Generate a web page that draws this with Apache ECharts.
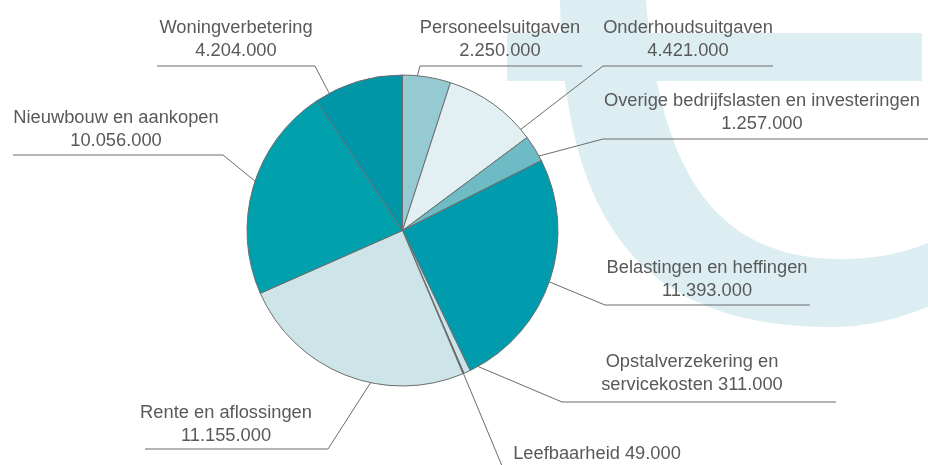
<!DOCTYPE html>
<html>
<head>
<meta charset="utf-8">
<script src="https://cdn.jsdelivr.net/npm/echarts@6/dist/echarts.min.js"></script>
<style>
html, body { margin: 0; padding: 0; background: #fff; }
#chart { width: 928px; height: 465px; }
</style>
</head>
<body>
<div id="chart"></div>
<script>
// uitgaven, met de klok mee vanaf 12 uur
var categories = ['Personeelsuitgaven', 'Onderhoudsuitgaven', 'Overige bedrijfslasten en investeringen',
    'Belastingen en heffingen', 'Opstalverzekering en servicekosten', 'Leefbaarheid',
    'Rente en aflossingen', 'Nieuwbouw en aankopen', 'Woningverbetering'];
var amounts = [2250000, 4421000, 1257000, 11393000, 311000, 49000, 11155000, 10056000, 4204000];
var sliceColors = ['#95cad3', '#e3f0f3', '#6ebbc5', '#009bac', '#cce4e9', '#3e6f76', '#cde4e9', '#00a0ad', '#0096a7'];

// plek van de labels: [tekst midden x, tekst onderkant y, streep y, streep van x, streep tot x, hoek in taartpunt (0-1), straal (0-1)]
var labelSpots = [
    [500, 62, 66, 420, 582, 0.24, 0.887],
    [688, 62, 66, 603, 773, 0.88, 0.866],
    [762, 135, 139, 603, 928, 0.58, 0.858],
    [707, 302, 305, 605, 810, 0.50, 0.864],
    [692, 396, 402, 562, 836, 0.30, 0.92],
    [597, 465, 473, 505, 690, 0.50, 0.99],
    [226, 447, 449, 328, 145, 0.37, 0.925],
    [116, 152, 155, 223, 13, 0.50, 0.909],
    [236, 62, 66, 315, 157, 0.16, 0.88]
];

var pieCenter = [402.5, 230.5];
var pieRadius = 155.5;

function fmt(v) {
    return String(v).replace(/\B(?=(\d{3})+(?!\d))/g, '.');
}

// achtergrond "t": bezier stukken omgezet naar een polygoon
function bez(p0, p1, p2, p3, out) {
    for (var k = 0; k <= 24; k++) {
        var t = k / 24, u = 1 - t;
        out.push([
            u * u * u * p0[0] + 3 * u * u * t * p1[0] + 3 * u * t * t * p2[0] + t * t * t * p3[0],
            u * u * u * p0[1] + 3 * u * u * t * p1[1] + 3 * u * t * t * p2[1] + t * t * t * p3[1]
        ]);
    }
}
var stem = [];
bez([560, 0], [562, 220], [640, 327], [830, 327], stem);
bez([830, 327], [870, 327], [900, 318], [930, 306], stem);
bez([930, 242], [900, 255], [870, 259], [840, 259], stem);
bez([840, 259], [720, 258], [660, 180], [646, 0], stem);

var total = 0;
amounts.forEach(function(v) { total += v; });
var startAngles = [];
var acc = 0;
amounts.forEach(function(v) {
    startAngles.push(acc / total * 360);
    acc += v;
});

var chart = echarts.init(document.getElementById('chart'));

chart.setOption({
    animation: false,
    backgroundColor: '#fff',
    graphic: [{
        type: 'rect',
        z: -10,
        silent: true,
        shape: { x: 507, y: 33, width: 415, height: 48 },
        style: { fill: '#ddeef3' }
    }, {
        type: 'polygon',
        z: -10,
        silent: true,
        shape: { points: stem },
        style: { fill: '#ddeef3' }
    }],
    series: [{
        type: 'pie',
        center: pieCenter,
        radius: pieRadius,
        startAngle: 90,
        clockwise: true,
        avoidLabelOverlap: false,
        itemStyle: { borderColor: '#6d6d6d', borderWidth: 1 },
        label: {
            show: true,
            position: 'outside',
            color: '#595959',
            fontSize: 18.3,
            fontFamily: 'Liberation Sans, Arial, sans-serif',
            lineHeight: 23,
            align: 'center',
            formatter: function(p) {
                if (p.name === 'Opstalverzekering en servicekosten') {
                    return 'Opstalverzekering en\nservicekosten ' + fmt(p.value);
                }
                if (p.name === 'Leefbaarheid') {
                    return p.name + ' ' + fmt(p.value);
                }
                return p.name + '\n' + fmt(p.value);
            }
        },
        labelLine: {
            show: true,
            length: 10,
            length2: 10,
            smooth: false,
            lineStyle: { color: '#6b6b6b', width: 1 }
        },
        labelLayout: function(params) {
            var i = params.dataIndex;
            var s = labelSpots[i];
            var span = amounts[i] / total * 360;
            var ang = (startAngles[i] + s[5] * span) * Math.PI / 180;
            var r = s[6] * pieRadius;
            var ax = pieCenter[0] + r * Math.sin(ang);
            var ay = pieCenter[1] - r * Math.cos(ang);
            return {
                x: s[0],
                y: s[1],
                align: 'center',
                verticalAlign: 'bottom',
                labelLinePoints: [[ax, ay], [s[3], s[2]], [s[4], s[2]]]
            };
        },
        emphasis: { disabled: true },
        data: categories.map(function(name, i) {
            return { name: name, value: amounts[i], itemStyle: { color: sliceColors[i] } };
        })
    }]
});
</script>
</body>
</html>
